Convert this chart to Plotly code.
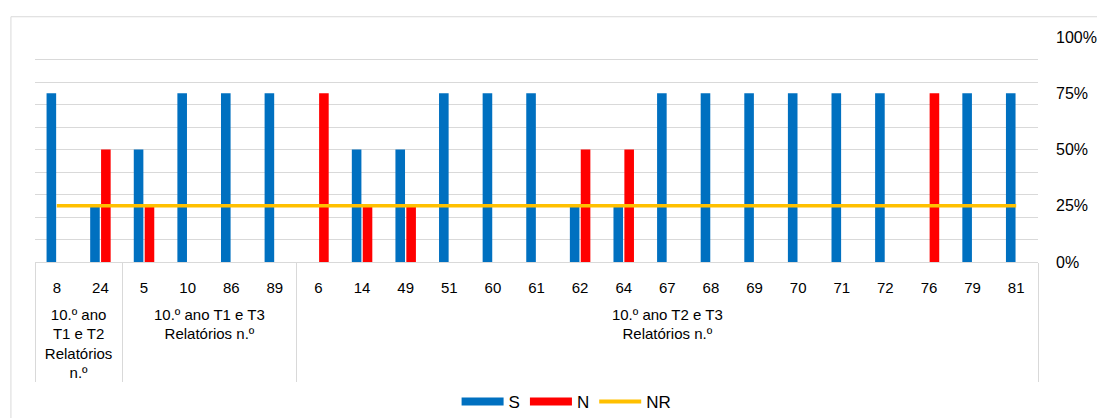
import plotly.graph_objects as go

# ---- data ----
groups = (["<br>10.º ano<br>T1 e T2<br>Relatórios<br>n.º"] * 2
          + ["<br>10.º ano T1 e T3<br>Relatórios n.º"] * 4
          + ["<br>10.º ano T2 e T3<br>Relatórios n.º"] * 17)
reports = ["8", "24", "5", "10", "86", "89", "6", "14", "49", "51", "60", "61",
           "62", "64", "67", "68", "69", "70", "71", "72", "76", "79", "81"]
s_vals = [0.75, 0.25, 0.50, 0.75, 0.75, 0.75, 0.00, 0.50, 0.50, 0.75, 0.75, 0.75,
          0.25, 0.25, 0.75, 0.75, 0.75, 0.75, 0.75, 0.75, 0.00, 0.75, 0.75]
n_vals = [0.00, 0.50, 0.25, 0.00, 0.00, 0.00, 0.75, 0.25, 0.25, 0.00, 0.00, 0.00,
          0.50, 0.50, 0.00, 0.00, 0.00, 0.00, 0.00, 0.00, 0.75, 0.00, 0.00]
nr_vals = [0.25] * 23
y_ticks = [0, 0.25, 0.5, 0.75, 1.0]

BLUE, RED, GOLD = "#0070C0", "#FF0000", "#FFC000"
x = [groups, reports]
FONT = "Arial, Liberation Sans, sans-serif"

fig = go.Figure()
fig.add_trace(go.Bar(x=x, y=s_vals, name="S", marker_color=BLUE,
                     marker_line_width=0, showlegend=False, legendgroup="S"))
fig.add_trace(go.Bar(x=x, y=n_vals, name="N", marker_color=RED,
                     marker_line_width=0, showlegend=False, legendgroup="N"))
fig.add_trace(go.Scatter(x=x, y=nr_vals, name="NR", mode="lines",
                         line=dict(color=GOLD, width=3.5), yaxis="y2",
                         showlegend=False, legendgroup="NR"))
# legend entries (wide rectangle keys like the original)
for nm, col, w in [("S", BLUE, 8), ("N", RED, 8), ("NR", GOLD, 4)]:
    fig.add_trace(go.Scatter(x=[None], y=[None], name=nm, mode="lines",
                             line=dict(color=col, width=w), legendgroup=nm,
                             showlegend=True))

fig.update_layout(
    width=1097, height=410,
    margin=dict(l=27, r=67, t=29, b=156, autoexpand=False),
    paper_bgcolor="white", plot_bgcolor="white",
    font=dict(family=FONT, size=15, color="#000000"),
    barmode="group", bargap=0.5, bargroupgap=0.12,
    showlegend=True,
    legend=dict(orientation="h", x=0.53, xanchor="center", y=-0.622,
                yanchor="middle", font=dict(size=17), traceorder="normal",
                itemwidth=42, tracegroupgap=0),
    xaxis=dict(type="multicategory", showline=True, linecolor="#d9d9d9",
               linewidth=1, showgrid=False, ticks="", automargin=False,
               showdividers=True, dividercolor="#d9d9d9", dividerwidth=1,
               tickfont=dict(size=15), ticklabelstandoff=12),
    yaxis=dict(range=[0, 1], dtick=0.1, showgrid=True, gridcolor="#d9d9d9",
               gridwidth=1, showticklabels=False, zeroline=False,
               automargin=False),
    yaxis2=dict(range=[0, 1], overlaying="y", side="right",
                tickvals=y_ticks, tickformat=".0%", showgrid=False,
                zeroline=False, ticks="", ticklabelstandoff=17,
                tickfont=dict(size=16), automargin=False),
    shapes=[dict(type="rect", xref="paper", yref="paper",
                 x0=-0.024, x1=1.2, y0=-0.9, y1=1.09,
                 line=dict(color="#d9d9d9", width=1), layer="below")],
)

fig.write_html("out.html")
